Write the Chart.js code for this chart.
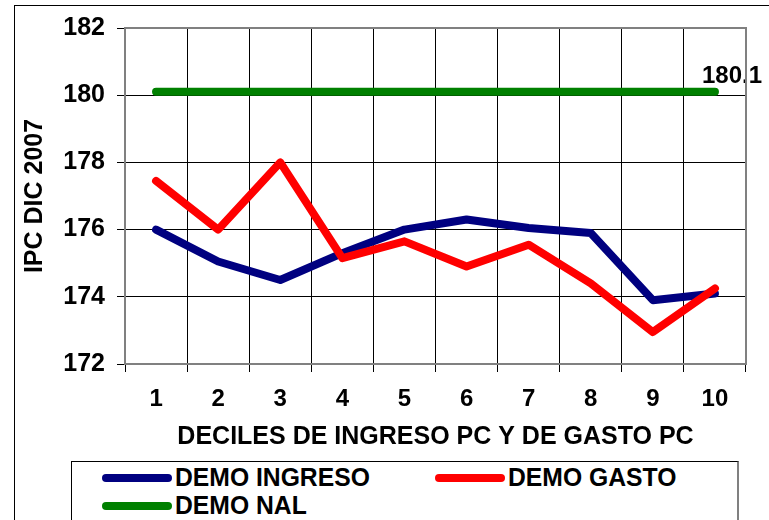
<!DOCTYPE html>
<html>
<head>
<meta charset="utf-8">
<script src="https://cdn.jsdelivr.net/npm/chart.js@4"></script>
<style>
  body { margin: 0; background: #fff; font-family: "Liberation Sans", Arial, sans-serif; }
  #wrap { position: relative; width: 769px; height: 520px; overflow: hidden; }
  #frame { position: absolute; left: 14px; top: 5px; width: 800px; height: 600px;
           border-left: 1px solid #000; border-top: 1px solid #000; }
  canvas { position: absolute; left: 0; top: 0; }
  #legend { position: absolute; left: 71px; top: 461px; width: 665px; height: 80px;
            border: 1px solid #000; border-right: 2px solid #808080; background: #fff; }
  .item { position: absolute; display: flex; align-items: center; font-weight: bold;
          font-size: 26px; color: #000; white-space: nowrap; }
  .swatch { width: 70px; height: 8px; border-radius: 4px; margin-right: 3px; }
  .txt { display: inline-block; transform: scaleX(0.95); transform-origin: left center; }
</style>
</head>
<body>
<div id="wrap">
  <div id="frame"></div>
  <canvas id="chart" width="769" height="520"></canvas>
  <div id="legend"></div>
</div>
<script>
// данные
const deciles = ['1', '2', '3', '4', '5', '6', '7', '8', '9', '10'];
const demoIngreso = [176.0, 175.05, 174.5, 175.3, 176.0, 176.3, 176.05, 175.9, 173.9, 174.1];
const demoGasto = [177.45, 176.0, 178.0, 175.15, 175.65, 174.9, 175.55, 174.4, 172.95, 174.25];
const demoNal = [180.1, 180.1, 180.1, 180.1, 180.1, 180.1, 180.1, 180.1, 180.1, 180.1];
const yTicks = [172, 174, 176, 178, 180, 182];

const FONT = '"Liberation Sans", Arial, sans-serif';

// подпись последней точки зелёной линии
const endLabel = {
  id: 'endLabel',
  afterDatasetsDraw(chart) {
    const meta = chart.getDatasetMeta(2);
    const pt = meta.data[meta.data.length - 1];
    const ctx = chart.ctx;
    ctx.save();
    ctx.font = 'bold 24px ' + FONT;
    ctx.fillStyle = '#000';
    ctx.textAlign = 'left';
    ctx.textBaseline = 'alphabetic';
    ctx.fillText(demoNal[demoNal.length - 1].toFixed(1), pt.x - 13, pt.y - 9);
    ctx.restore();
  }
};

// рамка области графика
const plotBorder = {
  id: 'plotBorder',
  afterDraw(chart) {
    const a = chart.chartArea;
    const ctx = chart.ctx;
    ctx.save();
    ctx.strokeStyle = '#808080';
    ctx.lineWidth = 2;
    ctx.beginPath();
    ctx.moveTo(a.left, a.top);
    ctx.lineTo(a.right, a.top);
    ctx.lineTo(a.right, a.bottom);
    ctx.stroke();
    ctx.restore();
  }
};

const lineStyle = { borderWidth: 8, pointRadius: 0, borderCapStyle: 'round', borderJoinStyle: 'round', tension: 0 };

new Chart(document.getElementById('chart'), {
  type: 'line',
  data: {
    labels: deciles,
    datasets: [
      { label: 'DEMO INGRESO', data: demoIngreso, borderColor: '#000080', order: 2, ...lineStyle },
      { label: 'DEMO GASTO', data: demoGasto, borderColor: '#ff0000', order: 1, ...lineStyle },
      { label: 'DEMO NAL', data: demoNal, borderColor: '#008000', order: 0, ...lineStyle },
    ],
  },
  options: {
    responsive: false,
    animation: false,
    layout: { padding: { left: 14, top: 28, right: 23, bottom: 60 } },
    plugins: { legend: { display: false }, tooltip: { enabled: false } },
    scales: {
      x: {
        offset: true,
        grid: { offset: true, color: '#000', lineWidth: 1, tickLength: 8, tickColor: '#000' },
        border: { color: '#808080', width: 2 },
        ticks: { color: '#000', font: { family: FONT, size: 24, weight: 'bold' }, padding: 13, maxRotation: 0 },
        title: {
          display: true, text: 'DECILES DE INGRESO PC Y DE GASTO PC', color: '#000',
          font: { family: FONT, size: 25, weight: 'bold' }, padding: { top: 0, bottom: 8 },
        },
        afterFit: s => { s.height = 96; },
      },
      y: {
        min: 172, max: 182,
        afterBuildTicks: s => { s.ticks = yTicks.map(v => ({ value: v })); },
        grid: { color: '#000', lineWidth: 1, tickLength: 8, tickColor: '#000' },
        border: { color: '#808080', width: 2 },
        ticks: { color: '#000', font: { family: FONT, size: 25, weight: 'bold' }, padding: 12 },
        title: {
          display: true, text: 'IPC DIC 2007', color: '#000',
          font: { family: FONT, size: 25, weight: 'bold' }, padding: { top: 6, bottom: 0 },
        },
        afterFit: s => { s.width = 111; },
      },
    },
  },
  plugins: [endLabel, plotBorder],
});

// легенда
const legendItems = [
  { text: 'DEMO INGRESO', color: '#000080', x: 30, y: 15 },
  { text: 'DEMO GASTO', color: '#ff0000', x: 363, y: 15 },
  { text: 'DEMO NAL', color: '#008000', x: 30, y: 43 },
];
const legend = document.getElementById('legend');
legendItems.forEach(it => {
  const el = document.createElement('div');
  el.className = 'item';
  el.style.left = it.x + 'px';
  el.style.top = (it.y - 15) + 'px';
  el.innerHTML = `<span class="swatch" style="background:${it.color}"></span><span class="txt">${it.text}</span>`;
  legend.appendChild(el);
});
</script>
</body>
</html>
